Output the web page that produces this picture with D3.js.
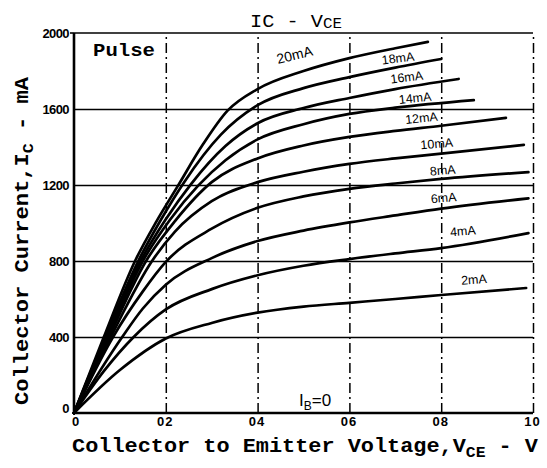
<!DOCTYPE html>
<html><head><meta charset="utf-8">
<script src="https://cdn.jsdelivr.net/npm/d3@7"></script>
<style>html,body{margin:0;padding:0;background:#fff;}svg{display:block;}</style>
</head><body>
<svg id="chart" width="547" height="468"></svg>
<script>
// ---- data ----
const xTicks = [0, 0.2, 0.4, 0.6, 0.8, 1.0];
const xTickLabels = ["0", "02", "04", "06", "08", "10"];
const yTicks = [0, 400, 800, 1200, 1600, 2000];
const yTickLabels = ["0", "400", "800", "1200", "1600", "2000"];
const seriesNames = ["20mA", "18mA", "16mA", "14mA", "12mA", "10mA", "8mA", "6mA", "4mA", "2mA"];
const ib20 = [[0,0],[0.065,400],[0.133,800],[0.18,1010],[0.225,1190],[0.28,1410],[0.334,1590],[0.4,1705],[0.5,1800],[0.6,1868],[0.7,1920],[0.771,1953]];
const ib18 = [[0,0],[0.068,400],[0.14,800],[0.19,1020],[0.24,1215],[0.32,1465],[0.4,1620],[0.5,1710],[0.6,1768],[0.7,1818],[0.8,1863]];
const ib16 = [[0,0],[0.07,400],[0.145,800],[0.2,1020],[0.255,1205],[0.33,1405],[0.4,1525],[0.5,1605],[0.6,1658],[0.7,1705],[0.838,1758]];
const ib14 = [[0,0],[0.073,400],[0.15,800],[0.21,1020],[0.27,1195],[0.33,1330],[0.4,1440],[0.5,1520],[0.6,1574],[0.7,1607],[0.871,1647]];
const ib12 = [[0,0],[0.076,400],[0.157,800],[0.22,1010],[0.3,1215],[0.4,1340],[0.5,1408],[0.6,1453],[0.7,1485],[0.8,1512],[0.941,1553]];
const ib10 = [[0,0],[0.08,400],[0.17,800],[0.22,955],[0.3,1115],[0.4,1215],[0.5,1270],[0.6,1311],[0.7,1340],[0.8,1365],[0.98,1411]];
const ib8  = [[0,0],[0.085,400],[0.15,640],[0.2,795],[0.3,970],[0.4,1080],[0.5,1140],[0.6,1180],[0.7,1208],[0.8,1232],[0.99,1268]];
const ib6  = [[0,0],[0.105,400],[0.15,550],[0.2,675],[0.3,815],[0.4,905],[0.5,960],[0.6,1003],[0.7,1040],[0.8,1076],[0.99,1130]];
const ib4  = [[0,0],[0.065,220],[0.13,400],[0.2,545],[0.3,652],[0.4,725],[0.5,775],[0.6,810],[0.7,840],[0.8,868],[0.99,947]];
const ib2  = [[0,0],[0.1,226],[0.2,392],[0.3,474],[0.4,528],[0.5,560],[0.6,580],[0.7,600],[0.8,621],[0.985,658]];
const seriesData = [ib20, ib18, ib16, ib14, ib12, ib10, ib8, ib6, ib4, ib2];
// label anchor positions (V, I) for the curve labels
const labelV = [0.483, 0.707, 0.726, 0.744, 0.758, 0.791, 0.804, 0.806, 0.848, 0.872];
const labelI = [1860, 1845, 1745, 1635, 1530, 1395, 1255, 1110, 935, 680];

// ---- layout ----
const svg = d3.select("#chart");
const x = d3.scaleLinear().domain([0, 1]).range([74, 533]);
const y = d3.scaleLinear().domain([0, 2000]).range([413, 33]);
const plotW = 533 - 74, plotH = 413 - 33;

svg.append("rect").attr("width", 547).attr("height", 468).attr("fill", "#fff");

// horizontal gridlines (solid)
const gy = svg.append("g").attr("transform", "translate(74,0)")
  .call(d3.axisLeft(y).tickValues([400, 800, 1200, 1600]).tickSize(-plotW).tickFormat(""));
gy.select(".domain").remove();
gy.selectAll("line").attr("stroke", "#000").attr("stroke-width", 1.6);

// vertical gridlines (dash-dot)
const gx = svg.append("g").attr("transform", "translate(0,413)")
  .call(d3.axisBottom(x).tickValues([0.2, 0.4, 0.6, 0.8, 1.0]).tickSize(-plotH).tickFormat(""));
gx.select(".domain").remove();
gx.selectAll("line").attr("stroke", "#000").attr("stroke-width", 1.5).attr("stroke-dasharray", "10,4,2,4");

// frame
svg.append("line").attr("x1", x(0)).attr("x2", x(1)).attr("y1", y(2000)).attr("y2", y(2000)).attr("stroke", "#000").attr("stroke-width", 1.6);
svg.append("line").attr("x1", x(0) - 4).attr("x2", x(0)).attr("y1", y(2000)).attr("y2", y(2000)).attr("stroke", "#000").attr("stroke-width", 1.6);
svg.append("line").attr("x1", x(0)).attr("x2", x(0)).attr("y1", y(2000)).attr("y2", y(0)).attr("stroke", "#000").attr("stroke-width", 2.6);
svg.append("line").attr("x1", x(0)).attr("x2", x(1)).attr("y1", y(0)).attr("y2", y(0)).attr("stroke", "#000").attr("stroke-width", 2.6);

// axes labels
const ay = svg.append("g").attr("transform", "translate(73,0)")
  .call(d3.axisLeft(y).tickValues(yTicks).tickSize(0).tickPadding(4).tickFormat((d, i) => yTickLabels[i]));
ay.select(".domain").remove();
ay.selectAll("text").attr("font-family", "Liberation Sans, Arial, sans-serif").attr("font-weight", "bold")
  .attr("font-size", 13).attr("fill", "#000").attr("letter-spacing", "-0.6");
ay.selectAll(".tick").filter(d => d === 0).select("text").attr("dy", "-0.05em");

const ax = svg.append("g").attr("transform", "translate(-1,415)")
  .call(d3.axisBottom(x).tickValues(xTicks).tickSize(0).tickPadding(2).tickFormat((d, i) => xTickLabels[i]));
ax.select(".domain").remove();
ax.selectAll("text").attr("font-family", "Liberation Sans, Arial, sans-serif").attr("font-weight", "bold")
  .attr("font-size", 13).attr("fill", "#000").attr("letter-spacing", "1");
ax.selectAll(".tick").filter(d => d === 0).attr("transform", `translate(${x(0) + 3},0)`);

// curves
const line = d3.line().x(d => x(d[0])).y(d => y(d[1])).curve(d3.curveMonotoneX);
svg.append("g").selectAll("path").data(seriesData).join("path")
  .attr("d", line).attr("fill", "none").attr("stroke", "#000").attr("stroke-width", 2.7)
  .attr("stroke-linecap", "round").attr("stroke-linejoin", "round");

// curve labels
const labelRot = [-14, -7, -7, -6, -6, -5, -5, -5, -5, -4];
svg.append("g").selectAll("text").data(seriesNames).join("text")
  .attr("transform", (d, i) => `translate(${x(labelV[i])},${y(labelI[i])}) rotate(${labelRot[i]})`)
  .attr("text-anchor", "middle")
  .attr("font-family", "Liberation Sans, Arial, sans-serif")
  .attr("font-size", (d, i) => i === 0 ? 14 : 12.5)
  .attr("fill", "#000")
  .text(d => d);

// title
const title = svg.append("text").attr("x", 250).attr("y", 27)
  .attr("font-family", "Liberation Mono, Courier New, monospace").attr("font-size", 18).attr("fill", "#000")
  .attr("textLength", 92).attr("lengthAdjust", "spacingAndGlyphs");
title.append("tspan").text("IC - V");
title.append("tspan").attr("font-size", 14).attr("dy", 1).text("CE");

// Pulse
svg.append("text").attr("x", 93).attr("y", 56).attr("font-family", "Liberation Mono, Courier New, monospace")
  .attr("font-weight", "bold").attr("font-size", 19).attr("textLength", 62).attr("lengthAdjust", "spacingAndGlyphs")
  .attr("fill", "#000").text("Pulse");

// IB = 0
const ib = svg.append("text").attr("x", 299).attr("y", 406)
  .attr("font-family", "Liberation Sans, Arial, sans-serif").attr("font-size", 17).attr("fill", "#000");
ib.append("tspan").text("I");
ib.append("tspan").attr("font-size", 12).attr("dy", 4).text("B");
ib.append("tspan").attr("dy", -4).text("=0");

// x axis title
const xt = svg.append("text").attr("x", 72).attr("y", 452)
  .attr("font-family", "Liberation Mono, Courier New, monospace").attr("font-weight", "bold")
  .attr("font-size", 20).attr("fill", "#000").attr("textLength", 466).attr("lengthAdjust", "spacingAndGlyphs");
xt.append("tspan").text("Collector to Emitter Voltage,V");
xt.append("tspan").attr("font-size", 15).attr("dy", 5).text("CE");
xt.append("tspan").attr("dy", -5).text(" - V");

// y axis title
const yt = svg.append("text").attr("transform", "translate(28,405) rotate(-90)")
  .attr("font-family", "Liberation Mono, Courier New, monospace").attr("font-weight", "bold")
  .attr("font-size", 20).attr("fill", "#000").attr("textLength", 328).attr("lengthAdjust", "spacingAndGlyphs");
yt.append("tspan").text("Collector Current,I");
yt.append("tspan").attr("font-size", 15).attr("dy", 5).text("C");
yt.append("tspan").attr("dy", -5).text(" - mA");
</script>
</body></html>
